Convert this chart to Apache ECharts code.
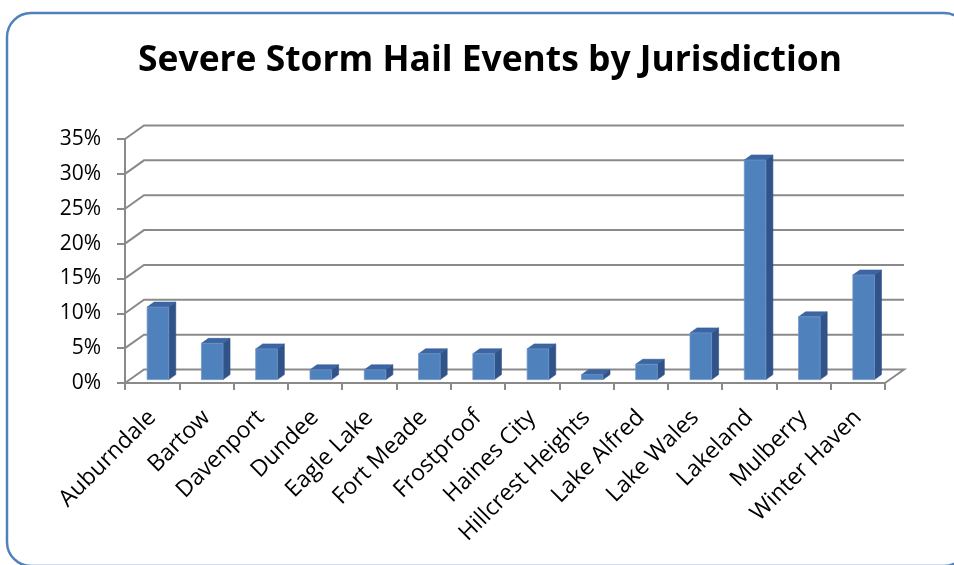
<!DOCTYPE html>
<html>
<head>
<meta charset="utf-8">
<script src="https://cdn.jsdelivr.net/npm/echarts@6/dist/echarts.min.js"></script>
<style>
  html, body { margin: 0; padding: 0; background: #fff; }
  #chart { width: 954px; height: 565px; }
</style>
</head>
<body>
<div id="chart"></div>
<script>
// Jurisdictions and their share of severe storm hail events (percent)
const jurisdictions = [
  'Auburndale', 'Bartow', 'Davenport', 'Dundee', 'Eagle Lake', 'Fort Meade',
  'Frostproof', 'Haines City', 'Hillcrest Heights', 'Lake Alfred', 'Lake Wales',
  'Lakeland', 'Mulberry', 'Winter Haven'
];
const hailShare = [10.4, 5.2, 4.4, 1.4, 1.4, 3.7, 3.7, 4.4, 0.7, 2.2, 6.7, 31.5, 9.0, 15.0];
const percentTicks = [0, 5, 10, 15, 20, 25, 30, 35];

// Pseudo-3D geometry (pixels)
const WALL_DX = 19, WALL_DY = -13.5;    // depth of back wall
const BAR_DX = 5.8, BAR_DY = -3.4;      // bars sit a little behind the front edge
const BAR_W = 21.6;                     // width of a bar's front face
const SIDE_DX = 7, SIDE_DY = -5;        // depth of each bar

const FONT = "'Open Sans', 'Noto Sans', sans-serif";
const GRID_COLOR = '#8a8a8a';

const chart = echarts.init(document.getElementById('chart'), null, { renderer: 'canvas' });

// Back-wall gridlines with connectors to the front value axis
function renderWall(params, api) {
  const v = api.value(1);
  const cs = params.coordSys;
  const y = api.coord([0, v])[1];
  const x0 = cs.x, x1 = cs.x + cs.width;
  const pts = [[x0, y], [x0 + WALL_DX, y + WALL_DY], [x1 + WALL_DX, y + WALL_DY]];
  if (v === 0) pts.push([x1, y]);
  return {
    type: 'polyline',
    shape: { points: pts },
    style: { stroke: GRID_COLOR, lineWidth: 2, fill: null },
    silent: true
  };
}

// Box-shaped bar: front face, side face and top face
function renderBar(params, api) {
  const idx = api.value(0);
  const base = api.coord([idx, 0]);
  const top = api.coord([idx, api.value(1)]);
  const cx = base[0] + BAR_DX;
  const x0 = cx - BAR_W / 2, x1 = cx + BAR_W / 2;
  const yb = base[1] + BAR_DY, yt = top[1] + BAR_DY;
  return {
    type: 'group',
    children: [
      {
        type: 'polygon',
        shape: { points: [[x1, yt], [x1 + SIDE_DX, yt + SIDE_DY], [x1 + SIDE_DX, yb + SIDE_DY], [x1, yb]] },
        style: { fill: '#30548a', stroke: '#2c4e7e', lineWidth: 0.6 }
      },
      {
        type: 'polygon',
        shape: { points: [[x0, yt], [x0 + SIDE_DX, yt + SIDE_DY], [x1 + SIDE_DX, yt + SIDE_DY], [x1, yt]] },
        style: { fill: '#3b66a3', stroke: '#355d95', lineWidth: 0.6 }
      },
      {
        type: 'rect',
        shape: { x: x0, y: yt, width: BAR_W, height: yb - yt },
        style: { fill: '#4f81bd', stroke: '#7096c8', lineWidth: 0.8 }
      }
    ]
  };
}

const option = {
  animation: false,
  backgroundColor: '#ffffff',
  title: {
    text: 'Severe Storm Hail Events by Jurisdiction',
    left: 485,
    top: 38,
    textAlign: 'center',
    textStyle: { fontFamily: FONT, fontWeight: 'bold', fontSize: 35.4, color: '#000' }
  },
  graphic: [{
    type: 'rect',
    shape: { x: 7, y: 13, width: 961, height: 553, r: 24 },
    style: { fill: null, stroke: '#4f81bd', lineWidth: 2.5 },
    silent: true,
    z: 100
  }],
  grid: { left: 125, top: 139, width: 760, height: 244 },
  xAxis: {
    type: 'category',
    data: jurisdictions,
    boundaryGap: true,
    axisLine: { show: true, lineStyle: { color: GRID_COLOR, width: 2 } },
    axisTick: { show: true, length: 7, interval: 0, lineStyle: { color: GRID_COLOR, width: 2 } },
    axisLabel: {
      interval: 0,
      rotate: 45,
      margin: 31,
      fontFamily: FONT,
      fontSize: 23,
      color: '#000'
    },
    splitLine: { show: false }
  },
  yAxis: {
    type: 'value',
    min: 0,
    max: 35,
    interval: 5,
    axisLine: { show: true, lineStyle: { color: GRID_COLOR, width: 2 } },
    axisTick: { show: true, length: 8, lineStyle: { color: GRID_COLOR, width: 2 } },
    axisLabel: {
      formatter: '{value}%',
      margin: 24,
      fontFamily: FONT,
      fontSize: 21,
      color: '#000'
    },
    splitLine: { show: false }
  },
  series: [
    {
      type: 'custom',
      name: 'wall',
      renderItem: renderWall,
      data: percentTicks.map(v => [0, v]),
      clip: false,
      silent: true,
      z: 1
    },
    {
      type: 'custom',
      name: 'Hail events',
      renderItem: renderBar,
      data: hailShare.map((v, i) => [i, v]),
      clip: false,
      z: 5
    }
  ]
};

chart.setOption(option);
</script>
</body>
</html>
